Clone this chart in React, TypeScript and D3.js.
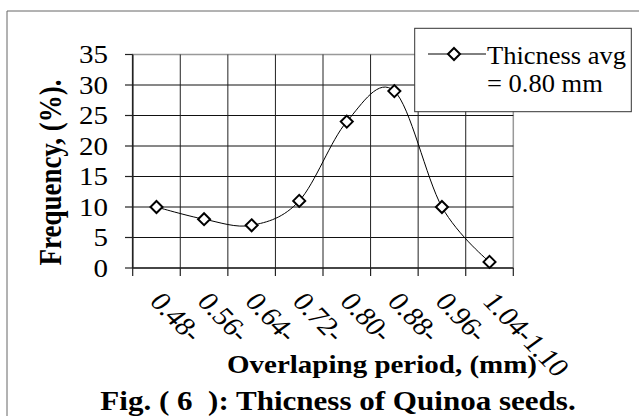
import React from 'react';
import * as d3 from 'd3';

// values
const categories = ['0.48-', '0.56-', '0.64-', '0.72-', '0.80-', '0.88-', '0.96-', '1.04-1.10'];
const frequency = [10, 8, 7, 11, 24, 29, 10, 1];
const yTicks = [0, 5, 10, 15, 20, 25, 30, 35];
const legendLines = ['Thicness avg', '= 0.80 mm'];
const yTitle = 'Frequency, (%).';
const xTitle = 'Overlaping period, (mm)';
const caption = 'Fig. ( 6  ): Thicness of Quinoa seeds.';

const W = 639;
const H = 416;
const FONT = '"Liberation Serif", "Times New Roman", serif';
const SX = 1.16; // source picture is stretched horizontally

const App: React.FC = () => {
  const x = d3.scaleBand<string>().domain(categories).range([132.7, 513.3]).padding(0);
  const y = d3.scaleLinear().domain([0, 35]).range([268, 54.5]);
  const cx = (c: string) => (x(c) || 0) + x.bandwidth() / 2;

  const [x0, x1] = x.range();
  const [y0, y1] = y.range();

  const line = d3.line<number>()
    .x((_, i) => cx(categories[i]))
    .y(d => y(d))
    .curve(d3.curveCatmullRom.alpha(0));

  const diamond = d3.symbol().type(d3.symbolDiamond2).size(92)() || '';

  return (
    <svg width={W} height={H} style={{ position: 'absolute', left: 0, top: 0, background: '#fff' }}
      fontFamily={FONT}>
      {/* outer frame (top + left visible) */}
      <line x1={7} y1={11} x2={W} y2={11} stroke="#666" strokeWidth={1} />
      <line x1={7} y1={11} x2={7} y2={H} stroke="#666" strokeWidth={1} />

      {/* plot area border */}
      <rect x={x0} y={y1} width={x1 - x0} height={y0 - y1} fill="none" stroke="#999" strokeWidth={1.5} />

      {/* horizontal gridlines */}
      {yTicks.filter(t => t > 0 && t < 35).map(t => (
        <line key={'h' + t} x1={x0} x2={x1} y1={y(t)} y2={y(t)} stroke="#111" strokeWidth={1} />
      ))}
      {/* vertical gridlines */}
      {categories.slice(1).map(c => (
        <line key={'v' + c} x1={x(c)} x2={x(c)} y1={y1} y2={y0} stroke="#222" strokeWidth={1} />
      ))}

      {/* axes */}
      <line x1={x0} x2={x0} y1={y1} y2={y0} stroke="#222" strokeWidth={1.6} />
      <line x1={x0} x2={x1} y1={y0} y2={y0} stroke="#222" strokeWidth={1.6} />
      {yTicks.map(t => (
        <line key={'yt' + t} x1={125} x2={x0} y1={y(t)} y2={y(t)} stroke="#222" strokeWidth={1.2} />
      ))}
      {categories.map(c => x(c) as number).concat([x1]).map((v, i) => (
        <line key={'xt' + i} x1={v} x2={v} y1={y0} y2={y0 + 8} stroke="#222" strokeWidth={1.2} />
      ))}

      {/* y tick labels */}
      {yTicks.map(t => (
        <text key={'yl' + t} transform={`translate(108,${y(t) + 8.5}) scale(${SX},1)`}
          textAnchor="end" fontSize={25} fill="#000">{t}</text>
      ))}

      {/* x tick labels */}
      {categories.map(c => (
        <text key={'xl' + c} transform={`translate(${cx(c) - 8},${302}) scale(${SX},1) rotate(50)`}
          fontSize={26} fill="#000">{c}</text>
      ))}

      {/* series */}
      <path d={line(frequency) || ''} fill="none" stroke="#000" strokeWidth={1} />
      {frequency.map((v, i) => (
        <path key={'m' + i} d={diamond} transform={`translate(${cx(categories[i])},${y(v)})`}
          fill="#fff" stroke="#000" strokeWidth={2} />
      ))}

      {/* legend */}
      <rect x={414.7} y={28.3} width={216.6} height={83.4} fill="#fff" stroke="#333" strokeWidth={1} />
      <line x1={428} x2={486} y1={54} y2={54} stroke="#000" strokeWidth={1} />
      <path d={diamond} transform="translate(454,54)" fill="#fff" stroke="#000" strokeWidth={2} />
      {legendLines.map((s, i) => (
        <text key={'lg' + i} transform={`translate(487,${64 + i * 28}) scale(1.06,1)`}
          fontSize={25} fill="#000">{s}</text>
      ))}

      {/* titles */}
      <text transform={`translate(61,172.5) scale(${SX},1) rotate(-90)`} textAnchor="middle"
        fontSize={27} fontWeight="bold" fill="#000">{yTitle}</text>
      <text transform={`translate(382,373) scale(${SX},1)`} textAnchor="middle"
        fontSize={25} fontWeight="bold" fill="#000">{xTitle}</text>
      <text transform={`translate(338,410) scale(1.15,1)`} textAnchor="middle"
        fontSize={27} fontWeight="bold" fill="#000" style={{ whiteSpace: 'pre' }}>{caption}</text>
    </svg>
  );
};

export default App;
